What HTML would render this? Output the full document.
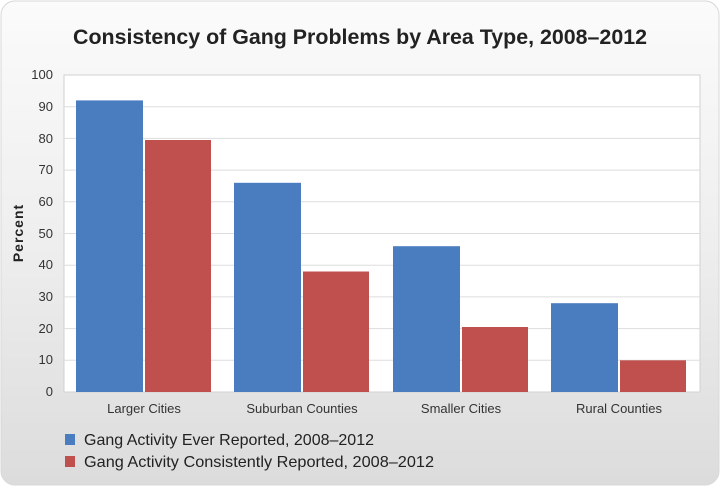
<!DOCTYPE html>
<html><head><style>
html,body{margin:0;padding:0;background:#fff;}
</style></head><body>
<svg width="720" height="488" xmlns="http://www.w3.org/2000/svg" style="display:block">
<defs>
<linearGradient id="bg" x1="0" y1="0" x2="0" y2="1">
<stop offset="0" stop-color="#fbfbfb"/><stop offset="0.5" stop-color="#eeeeee"/><stop offset="1" stop-color="#dcdcdc"/>
</linearGradient>
</defs>
<rect x="1" y="1" width="718" height="484" rx="14" fill="url(#bg)" stroke="#d8d8d8"/>
<text x="360" y="44" text-anchor="middle" font-family="'Liberation Sans Narrow','Liberation Sans',sans-serif" font-weight="bold" font-size="21" fill="#222" textLength="574" lengthAdjust="spacingAndGlyphs">Consistency of Gang Problems by Area Type, 2008–2012</text>
<rect x="64" y="75" width="636" height="317" fill="#fff" stroke="#d0d0d0"/>
<g stroke="#dddddd" stroke-width="1">
<line x1="64" x2="700" y1="106.7" y2="106.7"/><line x1="64" x2="700" y1="138.4" y2="138.4"/>
<line x1="64" x2="700" y1="170.1" y2="170.1"/><line x1="64" x2="700" y1="201.8" y2="201.8"/>
<line x1="64" x2="700" y1="233.5" y2="233.5"/><line x1="64" x2="700" y1="265.2" y2="265.2"/>
<line x1="64" x2="700" y1="296.9" y2="296.9"/><line x1="64" x2="700" y1="328.6" y2="328.6"/>
<line x1="64" x2="700" y1="360.3" y2="360.3"/>
</g>
<g fill="#4a7cc0">
<rect x="76" y="100.4" width="67" height="291.6"/>
<rect x="234" y="182.8" width="67" height="209.2"/>
<rect x="393" y="246.2" width="67" height="145.8"/>
<rect x="551" y="303.2" width="67" height="88.8"/>
</g>
<g fill="#c0504d">
<rect x="145" y="140" width="66" height="252"/>
<rect x="303" y="271.5" width="66" height="120.5"/>
<rect x="462" y="327" width="66" height="65"/>
<rect x="620" y="360.3" width="66" height="31.7"/>
</g>
<g font-family="'Liberation Sans',sans-serif" font-size="13" fill="#333" text-anchor="end">
<text x="53" y="79">100</text><text x="53" y="111">90</text><text x="53" y="143">80</text>
<text x="53" y="174">70</text><text x="53" y="206">60</text><text x="53" y="238">50</text>
<text x="53" y="269">40</text><text x="53" y="301">30</text><text x="53" y="333">20</text>
<text x="53" y="364">10</text><text x="53" y="396">0</text>
</g>
<text transform="translate(23,233) rotate(-90)" text-anchor="middle" font-family="'Liberation Sans',sans-serif" font-weight="bold" font-size="14" fill="#222" letter-spacing="1">Percent</text>
<g font-family="'Liberation Sans Narrow','Liberation Sans',sans-serif" font-size="13" fill="#333" text-anchor="middle">
<text x="144" y="413">Larger Cities</text>
<text x="302" y="413">Suburban Counties</text>
<text x="461" y="413">Smaller Cities</text>
<text x="619" y="413">Rural Counties</text>
</g>
<rect x="65" y="434" width="10" height="11" fill="#4a7cc0"/>
<rect x="65" y="456" width="10" height="11" fill="#c0504d"/>
<g font-family="'Liberation Sans Narrow','Liberation Sans',sans-serif" font-size="16" fill="#222">
<text x="84" y="445" textLength="290" lengthAdjust="spacingAndGlyphs">Gang Activity Ever Reported, 2008–2012</text>
<text x="84" y="467" textLength="350" lengthAdjust="spacingAndGlyphs">Gang Activity Consistently Reported, 2008–2012</text>
</g>
</svg>
</body></html>
